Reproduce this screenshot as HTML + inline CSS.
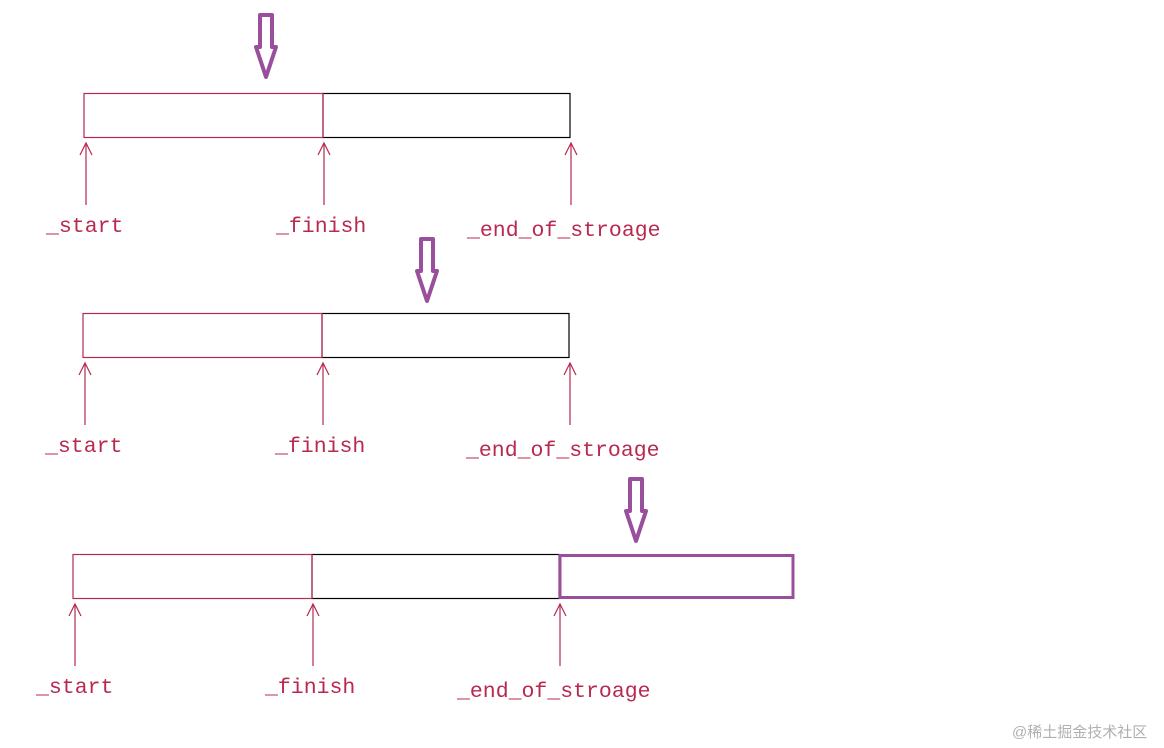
<!DOCTYPE html>
<html><head><meta charset="utf-8"><style>
html,body{margin:0;padding:0;background:#fff;}
svg{display:block;}
text{font-family:"Liberation Mono",monospace;font-size:21.5px;fill:#b8284f;}
</style></head><body>
<svg width="1164" height="748" viewBox="0 0 1164 748" xmlns="http://www.w3.org/2000/svg">
<defs>
<g id="barrow">
<path d="M-6,0 L6,0 L6,32 L10,32 L0,62 L-10,32 L-6,32 Z" fill="#fff" stroke="#9a4f9c" stroke-width="4" stroke-linejoin="round"/>
</g>
<g id="ptr">
<line x1="0" y1="0" x2="0" y2="62" stroke="#b8284f" stroke-width="1.2"/>
<path d="M-6,12 L0,0 L6,12" fill="none" stroke="#b8284f" stroke-width="1.2"/>
</g>
</defs>
<!-- diagram 1 -->
<use href="#barrow" x="266" y="15"/>
<rect x="323" y="93.5" width="247" height="44" fill="none" stroke="#000" stroke-width="1.2"/>
<rect x="84" y="93.5" width="239" height="44" fill="none" stroke="#b8284f" stroke-width="1.2"/>
<use href="#ptr" x="86" y="143"/>
<use href="#ptr" x="324" y="143"/>
<use href="#ptr" x="571" y="143"/>
<text x="46" y="232">_start</text>
<text x="276" y="232">_finish</text>
<text x="467" y="236">_end_of_stroage</text>
<!-- diagram 2 -->
<use href="#barrow" x="427" y="239"/>
<rect x="322" y="313.5" width="247" height="44" fill="none" stroke="#000" stroke-width="1.2"/>
<rect x="83" y="313.5" width="239" height="44" fill="none" stroke="#b8284f" stroke-width="1.2"/>
<use href="#ptr" x="85" y="363"/>
<use href="#ptr" x="323" y="363"/>
<use href="#ptr" x="570" y="363"/>
<text x="45" y="452">_start</text>
<text x="275" y="452">_finish</text>
<text x="466" y="456">_end_of_stroage</text>
<!-- diagram 3 -->
<use href="#barrow" x="636" y="479"/>
<rect x="312" y="554.5" width="247" height="44" fill="none" stroke="#000" stroke-width="1.2"/>
<rect x="73" y="554.5" width="239" height="44" fill="none" stroke="#b8284f" stroke-width="1.2"/>
<rect x="560" y="555.5" width="233" height="42" fill="none" stroke="#9a4f9c" stroke-width="3"/>
<use href="#ptr" x="75" y="604"/>
<use href="#ptr" x="313" y="604"/>
<use href="#ptr" x="560" y="604"/>
<text x="36" y="693">_start</text>
<text x="265" y="693">_finish</text>
<text x="457" y="697">_end_of_stroage</text>
<text x="1012" y="737" style="font-family:'Liberation Sans','Noto Sans CJK SC',sans-serif;font-size:15px;fill:#b0b0b0;">@稀土掘金技术社区</text>
</svg>
</body></html>
